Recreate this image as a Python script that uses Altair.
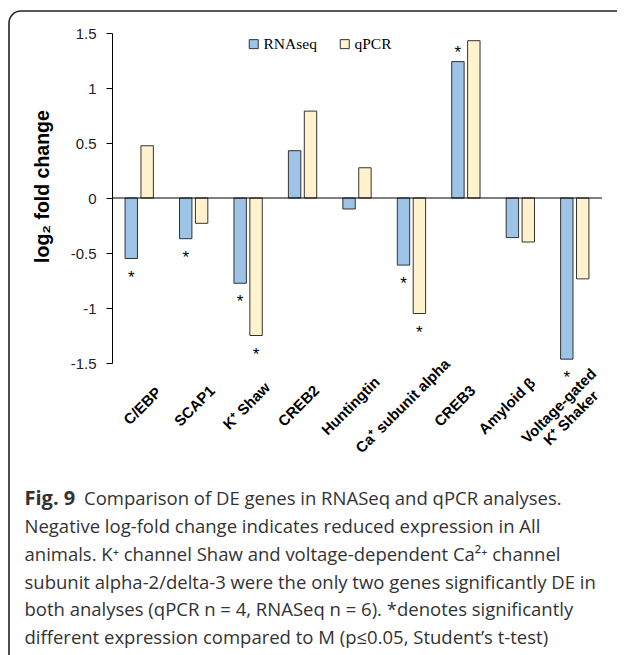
import altair as alt
import pandas as pd

# ---------------- data ----------------
genes = ["C/EBP", "SCAP1", "K⁺ Shaw", "CREB2", "Huntingtin",
         "Ca⁺ subunit alpha", "CREB3", "Amyloid β", "Voltage-gated\nK⁺ Shaker"]
rnaseq = [-0.55, -0.37, -0.775, 0.43, -0.10, -0.61, 1.24, -0.36, -1.465]
qpcr = [0.475, -0.23, -1.25, 0.79, 0.275, -1.05, 1.43, -0.40, -0.735]
sig_rnaseq = [True, True, True, False, False, True, True, False, True]
sig_qpcr = [False, False, True, False, False, True, False, False, False]
series = ["RNAseq", "qPCR"]
y_ticks = [-1.5, -1, -0.5, 0, 0.5, 1, 1.5]

caption_title = "Fig. 9"
caption_first = "Comparison of DE genes in RNASeq and qPCR analyses."
caption_lines = [
    "Negative log-fold change indicates reduced expression in All",
    "animals. K⁺ channel Shaw and voltage-dependent Ca²⁺ channel",
    "subunit alpha-2/delta-3 were the only two genes significantly DE in",
    "both analyses (qPCR n = 4, RNASeq n = 6). *denotes significantly",
    "different expression compared to M (p≤0.05, Student’s t-test)",
]

# ---------------- styles ----------------
colors = ["#9DC3E6", "#FFF2CC"]
W, H = 490, 330

rows = []
for g, r, q, sr, sq in zip(genes, rnaseq, qpcr, sig_rnaseq, sig_qpcr):
    rows.append({"gene": g, "series": "RNAseq", "value": r, "sig": sr})
    rows.append({"gene": g, "series": "qPCR", "value": q, "sig": sq})
df = pd.DataFrame(rows)

xscale = alt.Scale(domain=genes, paddingInner=0.48, paddingOuter=0.24)
xoff_scale = alt.Scale(domain=series, paddingInner=0.22, paddingOuter=0)
yscale = alt.Scale(domain=[-1.5, 1.5], nice=False, zero=False)

y_axis = alt.Axis(
    values=y_ticks, labelExpr="'' + datum.value", grid=False,
    title="log₂ fold change", titleFont="Liberation Sans", titleFontWeight="bold",
    titleFontSize=19.5, titleColor="black", titleAngle=270, titleX=-70, titleY=153,
    titleAlign="center", titleBaseline="middle",
    labelFont="Liberation Sans", labelFontSize=15, labelColor="#222", labelPadding=10,
    tickSize=6, tickColor="black", domainColor="black",
)

x_enc = alt.X("gene:N", scale=xscale, sort=genes, axis=None)
xo_enc = alt.XOffset("series:N", scale=xoff_scale, sort=series)
y_enc = alt.Y("value:Q", scale=yscale, axis=y_axis)

bars = alt.Chart(df).mark_bar(stroke="#333", strokeWidth=1).encode(
    x=x_enc,
    xOffset=xo_enc,
    y=y_enc,
    fill=alt.Fill("series:N", sort=series,
                  scale=alt.Scale(domain=series, range=colors),
                  legend=alt.Legend(title=None, orient="none", legendX=134, legendY=3,
                                    direction="horizontal", symbolType="square",
                                    symbolSize=81, symbolStrokeColor="#333",
                                    symbolStrokeWidth=1, labelFont="Liberation Serif",
                                    labelFontSize=15.5, labelColor="black", labelOffset=2,
                                    columnPadding=20, padding=0)),
)

star_base = alt.Chart(df).transform_filter("datum.sig")
stars_neg = star_base.transform_filter("datum.value < 0").mark_text(
    dy=19, fontSize=17, font="Liberation Sans", baseline="middle", color="black"
).encode(x=x_enc, xOffset=xo_enc, y=y_enc, text=alt.value("*"))
stars_pos = star_base.transform_filter("datum.value >= 0").mark_text(
    dy=-9, fontSize=17, font="Liberation Sans", baseline="middle", color="black"
).encode(x=x_enc, xOffset=xo_enc, y=y_enc, text=alt.value("*"))

zero = alt.Chart(pd.DataFrame({"value": [0]})).mark_rule(color="black", strokeWidth=1).encode(
    y=y_enc
)

plot = alt.layer(bars, zero, stars_neg, stars_pos)

labels = alt.Chart(pd.DataFrame({"gene": genes})).mark_text(
    angle=315, align="center", baseline="middle", font="Liberation Sans",
    fontWeight="bold", fontSize=15, lineBreak="\n", lineHeight=17, color="black"
).encode(
    x=alt.X("gene:N", sort=genes,
            scale=alt.Scale(type="point", range=[30.5, 447], padding=0), axis=None),
    y=alt.value(373),
    text="gene:N",
)

one = pd.DataFrame({"k": [0]})
border = alt.Chart(one).mark_rect(
    fill="white", fillOpacity=0, stroke="#222", strokeWidth=1.6, cornerRadius=12
).encode(x=alt.value(-103), x2=alt.value(800), y=alt.value(-22), y2=alt.value(900))

cap_font = "Open Sans"
cap_size = 18.5
cap_color = "#333"
cap_title = alt.Chart(one).mark_text(
    align="left", baseline="top", font=cap_font, fontWeight="bold",
    fontSize=20, color=cap_color
).encode(x=alt.value(-87.5), y=alt.value(455.5), text=alt.value(caption_title))
cap_first = alt.Chart(one).mark_text(
    align="left", baseline="top", font=cap_font, fontSize=cap_size, color=cap_color
).encode(x=alt.value(-28), y=alt.value(457), text=alt.value(caption_first))
cap_rest = alt.Chart(one).mark_text(
    align="left", baseline="top", font=cap_font, fontSize=cap_size, color=cap_color,
    lineBreak="\n", lineHeight=27.8
).encode(x=alt.value(-87.5), y=alt.value(485), text=alt.value("\n".join(caption_lines)))

chart = alt.layer(border, plot, labels, cap_title, cap_first, cap_rest).resolve_scale(
    x="independent"
).properties(
    width=W, height=H,
    autosize=alt.AutoSizeParams(type="none"),
    padding={"left": 104, "top": 25, "right": 15, "bottom": 292},
    background="white",
).configure_view(stroke=None)

chart.save("out.html", embed_options={"renderer": "svg", "actions": False})
